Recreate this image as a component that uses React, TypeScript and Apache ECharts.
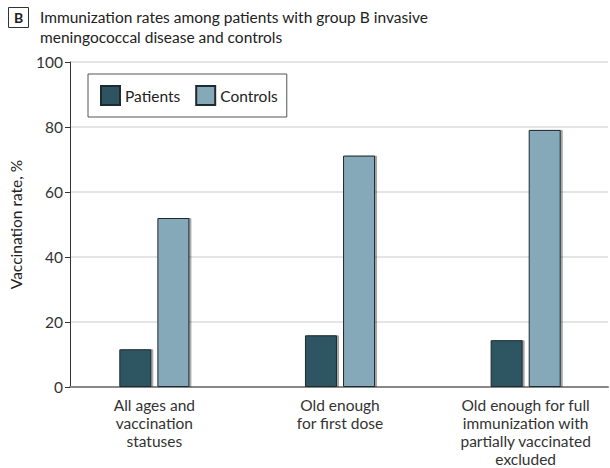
import React, { useEffect, useRef } from "react";
import * as echarts from "echarts";

const categories = [
  "All ages and\nvaccination\nstatuses",
  "Old enough\nfor first dose",
  "Old enough for full\nimmunization with\npartially vaccinated\nexcluded",
];
const patients = [11.6, 15.9, 14.4];
const controls = [52, 71.2, 79.1];
const yTicks = [0, 20, 40, 60, 80, 100];
const titleLines = [
  "Immunization rates among patients with group B invasive",
  "meningococcal disease and controls",
];
const panelLetter = "B";
const yName = "Vaccination rate, %";

const FONT = "Lato, Roboto, sans-serif";

export default function App() {
  const ref = useRef<HTMLDivElement>(null);
  useEffect(() => {
    if (!ref.current) return;
    const chart = echarts.init(ref.current, undefined, { renderer: "svg" });
    const barStyle = (color: string) => ({
      color,
      borderColor: "#1f2a30",
      borderWidth: 1,
      shadowColor: "rgba(0,0,0,0.35)",
      shadowOffsetX: 2,
      shadowOffsetY: 0,
      shadowBlur: 0,
    });
    chart.setOption({
      animation: false,
      textStyle: { fontFamily: FONT },
      graphic: [
        {
          type: "rect",
          shape: { x: 8.5, y: 7.5, width: 20, height: 20 },
          style: { fill: "#fff", stroke: "#333", lineWidth: 1 },
        },
        {
          type: "text",
          x: 18.5,
          y: 17.5,
          style: {
            text: panelLetter,
            fontFamily: FONT,
            fontWeight: "bold",
            fontSize: 14,
            fill: "#222",
            align: "center",
            verticalAlign: "middle",
          },
        },
        {
          type: "text",
          x: 40,
          y: 7,
          style: {
            text: titleLines.join("\n"),
            fontFamily: FONT,
            fontSize: 15.5,
            lineHeight: 20,
            fill: "#222",
          },
        },
      ],
      legend: {
        left: 88,
        top: 74,
        orient: "horizontal",
        padding: [11, 9, 11, 12],
        itemWidth: 19,
        itemHeight: 19,
        itemGap: 15,
        borderColor: "#555",
        borderWidth: 1,
        backgroundColor: "#fff",
        icon: "rect",
        textStyle: { fontSize: 15.5, color: "#222", fontFamily: FONT },
        data: ["Patients", "Controls"],
      },
      grid: { left: 69, right: 2, top: 62, bottom: 79, containLabel: false },
      xAxis: {
        type: "value",
        min: (69 - 153.5) / 186,
        max: (608 - 153.5) / 186,
        axisLine: { show: true, onZero: false, lineStyle: { color: "#888", width: 2 } },
        axisTick: { show: false },
        splitLine: { show: false },
        axisLabel: {
          customValues: [0, 1, 2],
          formatter: (v: number) => categories[Math.round(v)] ?? "",
          fontSize: 15.5,
          lineHeight: 18,
          color: "#333",
          margin: 9,
          align: "center",
          fontFamily: FONT,
        },
      },
      yAxis: {
        type: "value",
        min: yTicks[0],
        max: yTicks[yTicks.length - 1],
        interval: 20,
        name: yName,
        nameLocation: "middle",
        nameGap: 46,
        nameTextStyle: { fontSize: 15.5, color: "#222", fontFamily: FONT },
        axisLine: { show: true, onZero: false, lineStyle: { color: "#333", width: 1 } },
        axisTick: { show: true, length: 5, lineStyle: { color: "#333" } },
        axisLabel: { fontSize: 15.5, color: "#333", margin: 7, fontFamily: FONT },
        splitLine: { show: true, lineStyle: { color: "#ddd", width: 1.5 } },
      },
      series: [
        {
          name: "Patients",
          type: "bar",
          barWidth: 32,
          barGap: "19%",
          data: patients.map((v, i) => [i, v]),
          itemStyle: barStyle("#2e5462"),
        },
        {
          name: "Controls",
          type: "bar",
          barWidth: 32,
          barGap: "19%",
          data: controls.map((v, i) => [i, v]),
          itemStyle: barStyle("#85a9b8"),
        },
      ],
    });
    return () => chart.dispose();
  }, []);
  return (
    <div
      ref={ref}
      style={{ position: "absolute", left: 0, top: 0, width: 610, height: 468, background: "#fff" }}
    />
  );
}
